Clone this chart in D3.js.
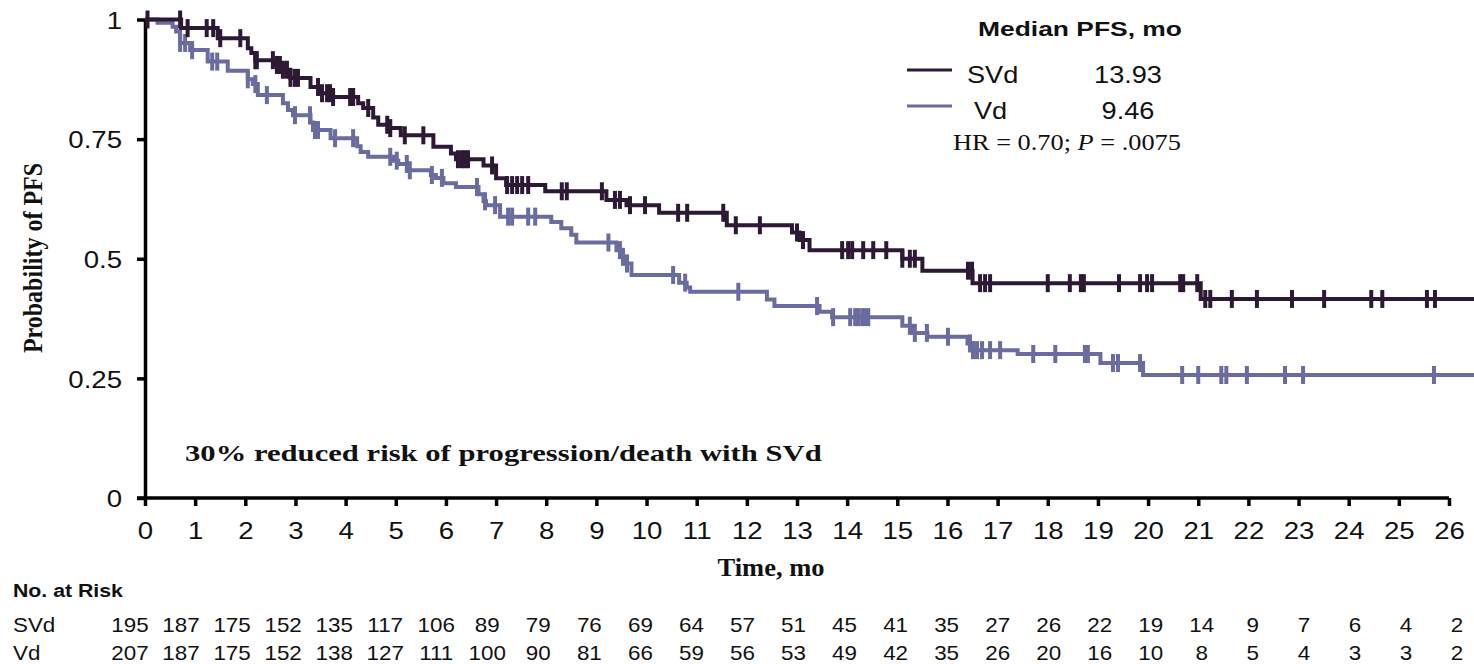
<!DOCTYPE html>
<html>
<head>
<meta charset="utf-8">
<script src="https://cdn.jsdelivr.net/npm/d3@7"></script>
<style>
  body { margin: 0; background: #fff; }
  svg { display: block; }
</style>
</head>
<body>
<svg width="1474" height="664"></svg>
<script>
// axis ticks
var xTicks = d3.range(0, 27);
var yTicks = [0, 0.25, 0.5, 0.75, 1];
var yTickLabels = ["0", "0.25", "0.5", "0.75", "1"];

// SVd arm: step times (mo) and survival after each step
var svdTime = [0, 0.72, 1.45, 2.05, 2.12, 2.2, 2.6, 2.75, 2.9, 3.3, 3.5, 3.75, 4.25, 4.35, 4.55, 4.65, 4.85, 5.1, 5.75, 6.1,
               6.2, 6.75, 7.0, 7.2, 7.98, 9.2, 9.6, 10.25, 11.6, 12.9, 13.05, 13.25, 15.1, 15.5, 16.5, 21.05];
var svdSurv = [1.0, 0.982, 0.961, 0.94, 0.93, 0.915, 0.905, 0.895, 0.878, 0.859, 0.846, 0.838, 0.825, 0.815, 0.795, 0.78, 0.773, 0.758, 0.734, 0.72,
               0.708, 0.695, 0.668, 0.654, 0.641, 0.623, 0.612, 0.596, 0.57, 0.555, 0.539, 0.518, 0.50, 0.475, 0.449, 0.416];
var svdCensor = [0.05, 0.7, 0.85, 1.23, 1.36, 1.5, 1.9, 2.2, 2.23, 2.55, 2.63, 2.69, 2.75, 2.83, 2.9, 2.99, 3.05, 3.45, 3.53, 3.63,
                 3.69, 3.75, 4.09, 4.15, 4.45, 4.83, 4.89, 5.18, 5.55, 6.24, 6.32, 6.38, 6.44, 6.92, 7.22, 7.32, 7.42, 7.52, 7.64, 8.31,
                 8.41, 9.11, 9.37, 9.47, 9.67, 9.97, 10.63, 10.81, 11.53, 11.78, 12.26, 13.0, 13.12, 13.9, 14.02, 14.1, 14.32, 14.52, 14.78, 15.1,
                 15.25, 15.35, 16.41, 16.49, 16.65, 16.75, 16.85, 18.0, 18.44, 18.66, 18.72, 19.42, 19.84, 19.98, 20.08, 20.64, 20.7, 20.98, 21.14, 21.24,
                 21.67, 22.17, 22.87, 23.51, 24.45, 24.67, 25.56, 25.72];

// Vd arm
var vdTime = [0, 0.25, 0.55, 0.62, 0.7, 0.9, 1.25, 1.65, 2.05, 2.15, 2.25, 2.75, 2.85, 2.95, 3.3, 3.35, 3.7, 4.23, 4.3, 4.45,
              4.95, 5.05, 5.23, 5.7, 5.8, 5.95, 6.2, 6.65, 6.75, 6.8, 7.08, 8.1, 8.3, 8.5, 8.6, 9.4, 9.5, 9.6, 9.7, 10.65,
              10.8, 10.87, 12.4, 12.55, 13.45, 13.7, 15.1, 15.3, 15.6, 16.4, 16.5, 17.4, 19.05, 19.9];
var vdSurv = [1.0, 0.993, 0.985, 0.975, 0.951, 0.936, 0.912, 0.893, 0.875, 0.865, 0.842, 0.825, 0.811, 0.80, 0.785, 0.769, 0.752, 0.735, 0.723, 0.713,
              0.705, 0.698, 0.685, 0.675, 0.669, 0.658, 0.65, 0.635, 0.62, 0.612, 0.588, 0.577, 0.564, 0.55, 0.534, 0.518, 0.504, 0.49, 0.466, 0.45,
              0.44, 0.431, 0.415, 0.401, 0.389, 0.378, 0.36, 0.345, 0.337, 0.323, 0.309, 0.301, 0.282, 0.257];
var vdCensor = [0.7, 0.8, 0.94, 1.34, 1.44, 2.05, 2.2, 2.43, 2.99, 3.29, 3.39, 3.45, 3.79, 4.15, 4.89, 5.02, 5.22, 5.28, 5.72, 5.92,
                6.62, 6.78, 6.98, 7.24, 7.32, 7.64, 7.78, 9.24, 9.47, 9.53, 9.61, 10.53, 10.77, 11.83, 13.4, 13.72, 14.06, 14.16, 14.22, 14.30,
                14.36, 14.42, 15.25, 15.35, 15.59, 16.01, 16.45, 16.51, 16.59, 16.69, 16.85, 17.05, 17.71, 18.15, 18.74, 18.8, 19.3, 19.4, 19.84, 20.68,
                21.0, 21.46, 21.56, 21.97, 22.73, 23.09, 25.7];
var followEnd = 26.5;

// number at risk, one per month 0..26
var riskSVd = [195, 187, 175, 152, 135, 117, 106, 89, 79, 76, 69, 64, 57, 51, 45, 41, 35, 27, 26, 22, 19, 14, 9, 7, 6, 4, 2];
var riskVd = [207, 187, 175, 152, 138, 127, 111, 100, 90, 81, 66, 59, 56, 53, 49, 42, 35, 26, 20, 16, 10, 8, 5, 4, 3, 3, 2];

var arms = ["SVd", "Vd"];
var medians = ["13.93", "9.46"];

var svdColor = "#2e1934", vdColor = "#6a6b9e";
var SX = 1.15; // the source figure's lettering is a little wide
var sans = "Liberation Sans, Arial, sans-serif",
    serif = "Liberation Serif, Times New Roman, serif";

var svg = d3.select("svg");

var x = d3.scaleLinear().domain([0, 26]).range([145, 1449]);
var y = d3.scaleLinear().domain([0, 1]).range([498, 19.5]);
// the at-risk numbers sit on their own slightly shifted grid
var xRisk = d3.scaleLinear().domain([0, 26]).range([130, 1457]);

function stepAt(times, surv, t) {
  var i = d3.bisectRight(times, t) - 1;
  return surv[Math.max(i, 0)];
}

function addText(g, txt, px, py, opts) {
  var t = g.append("text")
    .attr("transform", "translate(" + px + "," + py + ") scale(" + (opts.sx || 1) + ",1)")
    .attr("font-family", opts.family || sans)
    .attr("font-size", opts.size)
    .attr("font-weight", opts.weight || "normal")
    .attr("text-anchor", opts.anchor || "start")
    .attr("fill", "#111")
    .text(txt);
  return t;
}

// stretch a text horizontally so it spans the given width
function fitWidth(t, px, py, w) {
  var len = t.node().getComputedTextLength();
  t.attr("transform", "translate(" + px + "," + py + ") scale(" + (w / len) + ",1)");
}

// axes
var yAxis = d3.axisLeft(y).tickValues(yTicks).tickSize(8).tickSizeOuter(0)
  .tickFormat(function(d, i) { return yTickLabels[i]; });
var gy = svg.append("g").attr("transform", "translate(" + x(0) + ",0)").call(yAxis);
gy.select(".domain").attr("stroke", "#000").attr("stroke-width", 3.5);
gy.selectAll(".tick line").attr("stroke", "#000").attr("stroke-width", 3.5);
gy.selectAll(".tick text")
  .attr("x", -20).attr("dy", "0.36em")
  .attr("transform", "scale(" + SX + ",1)")
  .attr("font-family", sans).attr("font-size", 24).attr("fill", "#111");

var xAxis = d3.axisBottom(x).tickValues(xTicks).tickSize(8).tickSizeOuter(0).tickFormat(d3.format("d"));
var gx = svg.append("g").attr("transform", "translate(0," + y(0) + ")").call(xAxis);
gx.select(".domain").attr("stroke", "#000").attr("stroke-width", 3.5).attr("d", "M" + (x(0) - 8) + ",0H" + x(26));
gx.selectAll(".tick line").attr("stroke", "#000").attr("stroke-width", 3.5);
gx.selectAll(".tick text")
  .attr("y", 41).attr("dy", 0)
  .attr("transform", "scale(" + SX + ",1)")
  .attr("font-family", sans).attr("font-size", 24).attr("fill", "#111");

// KM curves, Vd under SVd
var line = d3.line()
  .x(function(d) { return x(d[0]); })
  .y(function(d) { return y(d[1]); })
  .curve(d3.curveStepAfter);

function drawArm(times, surv, censor, color) {
  var pts = times.map(function(t, i) { return [t, surv[i]]; });
  pts.push([followEnd, surv[surv.length - 1]]);
  var g = svg.append("g");
  g.append("path")
    .attr("d", line(pts))
    .attr("fill", "none")
    .attr("stroke", color)
    .attr("stroke-width", 4);
  g.selectAll("line.cens")
    .data(censor)
    .enter().append("line")
    .attr("class", "cens")
    .attr("x1", function(d) { return x(d); })
    .attr("x2", function(d) { return x(d); })
    .attr("y1", function(d) { return y(stepAt(times, surv, d)) - 9; })
    .attr("y2", function(d) { return y(stepAt(times, surv, d)) + 9; })
    .attr("stroke", color)
    .attr("stroke-width", 4);
}
drawArm(vdTime, vdSurv, vdCensor, vdColor);
drawArm(svdTime, svdSurv, svdCensor, svdColor);

// axis titles
svg.append("text")
  .attr("transform", "translate(42,258) rotate(-90) scale(1,1.15)")
  .attr("text-anchor", "middle")
  .attr("font-family", serif).attr("font-weight", "bold").attr("font-size", 24)
  .attr("fill", "#111")
  .text("Probability of PFS");
var xt = addText(svg, "Time, mo", 771, 576, { family: serif, weight: "bold", size: 25, anchor: "middle" });
fitWidth(xt, 771, 576, 107);

// annotation
var note = addText(svg, "30% reduced risk of progression/death with SVd", 185, 461,
  { family: serif, weight: "bold", size: 24 });
fitWidth(note, 185, 461, 637);

// legend
var leg = svg.append("g");
var head = addText(leg, "Median PFS, mo", 978, 36, { weight: "bold", size: 21 });
fitWidth(head, 978, 36, 204);
var legY = [70, 106];
var legColors = [svdColor, vdColor];
var legNameX = [967, 974];
arms.forEach(function(a, i) {
  leg.append("line")
    .attr("x1", 907).attr("x2", 952)
    .attr("y1", legY[i]).attr("y2", legY[i])
    .attr("stroke", legColors[i]).attr("stroke-width", 3);
  addText(leg, a, legNameX[i], legY[i] + 13, { size: 23, sx: 1.18 });
  addText(leg, medians[i], 1128, legY[i] + 13, { size: 23, sx: 1.18, anchor: "middle" });
});
var hr = leg.append("text")
  .attr("font-family", serif).attr("font-size", 23).attr("fill", "#111");
hr.append("tspan").text("HR = 0.70; ");
hr.append("tspan").attr("font-style", "italic").text("P");
hr.append("tspan").text(" = .0075");
fitWidth(hr, 953, 150, 228);

// number at risk table
var risk = svg.append("g");
addText(risk, "No. at Risk", 13, 597, { weight: "bold", size: 19, sx: 1.12 });
var riskRows = [riskSVd, riskVd];
var rowY = [632, 660];
arms.forEach(function(a, i) {
  addText(risk, a, 13, rowY[i], { size: 20, sx: 1.12 });
  riskRows[i].forEach(function(v, j) {
    addText(risk, v, xRisk(j), rowY[i], { size: 20, sx: 1.12, anchor: "middle" });
  });
});
</script>
</body>
</html>
